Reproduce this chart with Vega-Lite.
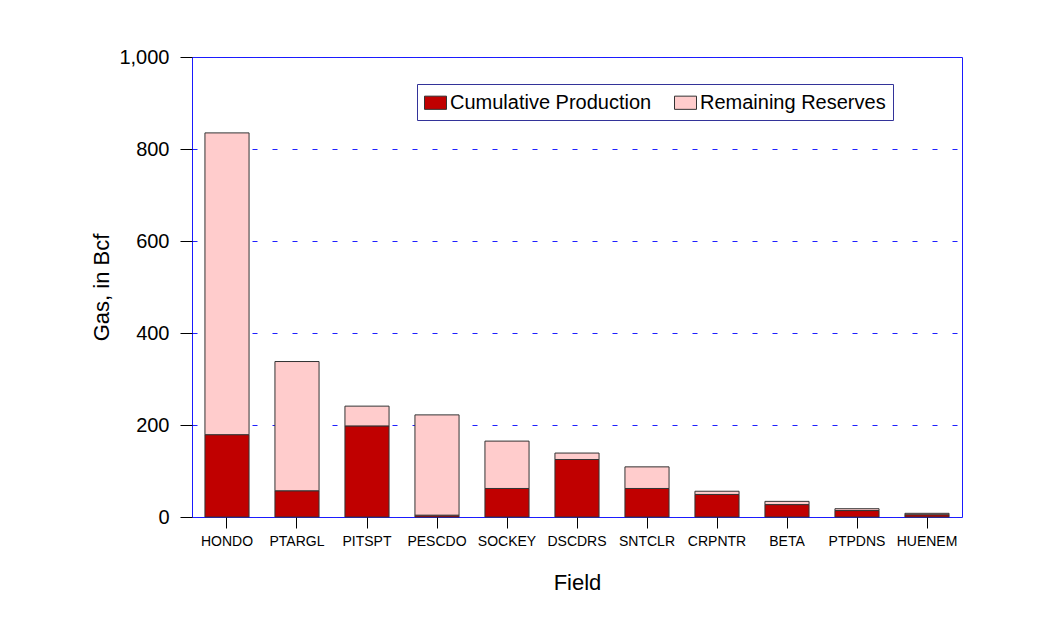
{
  "$schema": "https://vega.github.io/schema/vega-lite/v6.json",
  "autosize": {"type": "none"},
  "width": 770,
  "height": 460,
  "padding": {"left": 192, "top": 57, "right": 75, "bottom": 120},
  "background": "white",
  "config": {
    "font": "Liberation Sans",
    "view": {"stroke": "#1a1aff", "strokeWidth": 1},
    "axis": {"tickColor": "#000000", "gridColor": "#1f1fff", "gridOpacity": 1}
  },
  "data": {
    "values": [
      {"field": "HONDO", "series": "Cumulative Production", "gas": 179},
      {"field": "HONDO", "series": "Remaining Reserves", "gas": 656},
      {"field": "PTARGL", "series": "Cumulative Production", "gas": 57},
      {"field": "PTARGL", "series": "Remaining Reserves", "gas": 281},
      {"field": "PITSPT", "series": "Cumulative Production", "gas": 198},
      {"field": "PITSPT", "series": "Remaining Reserves", "gas": 43},
      {"field": "PESCDO", "series": "Cumulative Production", "gas": 4},
      {"field": "PESCDO", "series": "Remaining Reserves", "gas": 218},
      {"field": "SOCKEY", "series": "Cumulative Production", "gas": 62},
      {"field": "SOCKEY", "series": "Remaining Reserves", "gas": 103},
      {"field": "DSCDRS", "series": "Cumulative Production", "gas": 125},
      {"field": "DSCDRS", "series": "Remaining Reserves", "gas": 14},
      {"field": "SNTCLR", "series": "Cumulative Production", "gas": 62},
      {"field": "SNTCLR", "series": "Remaining Reserves", "gas": 47},
      {"field": "CRPNTR", "series": "Cumulative Production", "gas": 49},
      {"field": "CRPNTR", "series": "Remaining Reserves", "gas": 7},
      {"field": "BETA", "series": "Cumulative Production", "gas": 27},
      {"field": "BETA", "series": "Remaining Reserves", "gas": 7},
      {"field": "PTPDNS", "series": "Cumulative Production", "gas": 14},
      {"field": "PTPDNS", "series": "Remaining Reserves", "gas": 4},
      {"field": "HUENEM", "series": "Cumulative Production", "gas": 5},
      {"field": "HUENEM", "series": "Remaining Reserves", "gas": 3}
    ]
  },
  "mark": {"type": "bar", "stroke": "#333333", "strokeWidth": 1},
  "encoding": {
    "x": {
      "field": "field",
      "type": "nominal",
      "sort": null,
      "scale": {"paddingInner": 0.37, "paddingOuter": 0.185},
      "axis": {
        "title": "Field",
        "titleFontSize": 22,
        "titleFontWeight": "normal",
        "titleColor": "#000000",
        "titlePadding": 24,
        "labelAngle": 0,
        "labelFontSize": 14,
        "labelColor": "#000000",
        "labelPadding": 6,
        "tickSize": 11,
        "domain": false,
        "grid": false
      }
    },
    "y": {
      "field": "gas",
      "type": "quantitative",
      "stack": "zero",
      "scale": {"domain": [0, 1000], "nice": false},
      "axis": {
        "title": "Gas, in Bcf",
        "titleFontSize": 22,
        "titleFontWeight": "normal",
        "titleColor": "#000000",
        "titlePadding": 5,
        "values": [0, 200, 400, 600, 800, 1000],
        "format": ",.0f",
        "labelFontSize": 20,
        "labelColor": "#000000",
        "labelPadding": 11,
        "tickSize": 12,
        "domain": false,
        "grid": true,
        "gridDash": [5, 15],
        "gridWidth": 1
      }
    },
    "order": {"field": "series", "type": "nominal", "sort": "ascending"},
    "color": {
      "field": "series",
      "type": "nominal",
      "scale": {
        "domain": ["Cumulative Production", "Remaining Reserves"],
        "range": ["#c00000", "#ffcccc"]
      },
      "legend": {
        "title": null,
        "orient": "none",
        "legendX": 225,
        "legendY": 27,
        "direction": "horizontal",
        "strokeColor": "#333399",
        "fillColor": "#ffffff",
        "padding": 7,
        "symbolType": "M-1,-0.6H1V0.6H-1Z",
        "symbolSize": 484,
        "symbolStrokeColor": "#333333",
        "symbolStrokeWidth": 1,
        "symbolOpacity": 1,
        "labelFontSize": 20,
        "labelColor": "#000000",
        "labelOffset": 3,
        "labelLimit": 300,
        "columnPadding": 20
      }
    }
  }
}
